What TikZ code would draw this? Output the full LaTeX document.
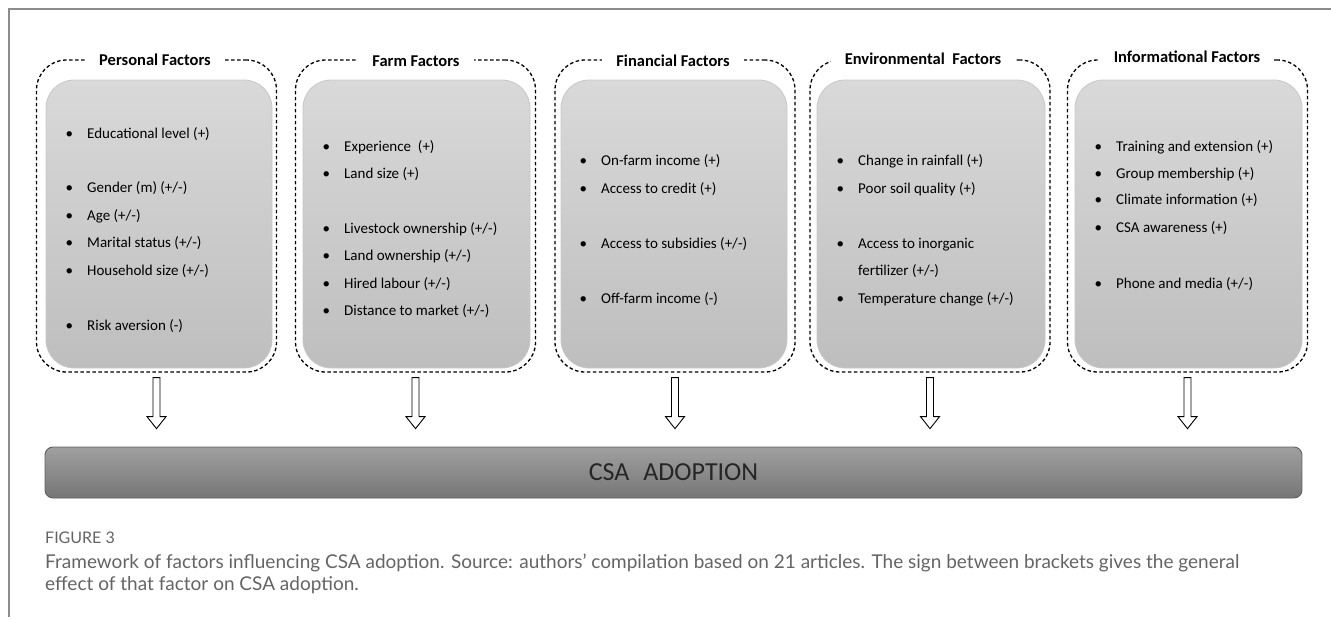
\documentclass[tikz,border=0pt]{standalone}
\usepackage{fontspec}
\setmainfont{Carlito}
\newfontfamily\capfont{Lato}
\definecolor{box_top}{RGB}{217, 217, 217}
\definecolor{box_bot}{RGB}{190, 190, 190}
\definecolor{box_line}{RGB}{200, 200, 200}
\definecolor{bar_top}{RGB}{160, 160, 160}
\definecolor{bar_bot}{RGB}{118, 118, 118}
\definecolor{bar_line}{RGB}{95, 95, 95}
\definecolor{frame_grey}{RGB}{140, 140, 140}
\definecolor{cap_grey}{RGB}{100, 100, 100}
\tikzstyle{dbox}=[rectangle,rounded corners=30pt,draw=black,line width=1.3pt,
  dash pattern=on 3.5pt off 2.5pt,minimum width=240pt,minimum height=312pt,inner sep=0pt]
\tikzstyle{gbox}=[rectangle,rounded corners=28pt,top color=box_top,bottom color=box_bot,
  draw=box_line,line width=0.8pt,minimum width=227pt,minimum height=288pt,inner sep=0pt]
\tikzstyle{fhead}=[fill=white,inner xsep=14pt,inner ysep=3pt,
  font=\fontsize{16.5}{20}\selectfont\bfseries]
\tikzstyle{fitem}=[anchor=base west,inner sep=0pt,font=\fontsize{15}{18}\selectfont]
\tikzstyle{harrow}=[draw=black,fill=white,line width=0.9pt,line join=miter]
\tikzstyle{adopt}=[rectangle,rounded corners=8pt,top color=bar_top,bottom color=bar_bot,
  draw=bar_line,line width=0.9pt,minimum width=1257pt,minimum height=51pt,
  font=\fontsize{26}{30}\selectfont,text=black!85]
\tikzstyle{capt}=[anchor=base west,inner sep=0pt,text=cap_grey,font=\capfont\fontsize{19}{22}\selectfont]
\tikzstyle{border}=[draw=frame_grey,line width=1.4pt]
\tikzstyle{none}=[]
\newcommand{\bul}{\llap{\textbullet\hspace{14pt}}}

\begin{document}
\begin{tikzpicture}[x=1pt, y=-1pt]
            \useasboundingbox (0, 0) rectangle (1331, 619);
            \draw [style=border] (1331, 9) -- (9, 9) -- (9, 617);
            % dashed groups and grey boxes
            \node [style=dbox] (0) at (156.5, 216) {};
            \node [style=dbox] (1) at (415.5, 216) {};
            \node [style=dbox] (2) at (675, 216) {};
            \node [style=dbox] (3) at (930, 216) {};
            \node [style=dbox] (4) at (1187.5, 216) {};
            \node [style=gbox, minimum width=226pt] (5) at (159, 224) {};
            \node [style=gbox] (6) at (416.5, 224) {};
            \node [style=gbox, minimum width=226pt] (7) at (674, 224) {};
            \node [style=gbox, minimum width=228pt] (8) at (931, 224) {};
            \node [style=gbox] (9) at (1188.5, 224) {};
            \node [style=fhead] (10) at (155, 60) {Personal Factors};
            \node [style=fhead] (11) at (416, 61) {Farm Factors};
            \node [style=fhead] (12) at (673, 61) {Financial Factors};
            \node [style=fhead] (13) at (923, 59) {Environmental~~Factors};
            \node [style=fhead] (14) at (1187, 57) {Informational Factors};
            % personal
            \node [style=fitem] (20) at (87, 138) {\bul Educational level (+)};
            \node [style=fitem] (21) at (87, 192) {\bul Gender (m) (+/-)};
            \node [style=fitem] (22) at (87, 220) {\bul Age (+/-)};
            \node [style=fitem] (23) at (87, 247) {\bul Marital status (+/-)};
            \node [style=fitem] (24) at (87, 275) {\bul Household size (+/-)};
            \node [style=fitem] (25) at (87, 330) {\bul Risk aversion (-)};
            % farm
            \node [style=fitem] (30) at (344, 151) {\bul Experience~~(+)};
            \node [style=fitem] (31) at (344, 178) {\bul Land size (+)};
            \node [style=fitem] (32) at (344, 233) {\bul Livestock ownership (+/-)};
            \node [style=fitem] (33) at (344, 260) {\bul Land ownership (+/-)};
            \node [style=fitem] (34) at (344, 288) {\bul Hired labour (+/-)};
            \node [style=fitem] (35) at (344, 315) {\bul Distance to market (+/-)};
            % financial
            \node [style=fitem] (40) at (601, 165) {\bul On-farm income (+)};
            \node [style=fitem] (41) at (601, 193) {\bul Access to credit (+)};
            \node [style=fitem] (42) at (601, 248) {\bul Access to subsidies (+/-)};
            \node [style=fitem] (43) at (601, 303) {\bul Off-farm income (-)};
            % environmental
            \node [style=fitem] (50) at (858, 165) {\bul Change in rainfall (+)};
            \node [style=fitem] (51) at (858, 193) {\bul Poor soil quality (+)};
            \node [style=fitem] (52) at (858, 248) {\bul Access to inorganic};
            \node [style=fitem] (53) at (858, 275) {fertilizer (+/-)};
            \node [style=fitem] (54) at (858, 303) {\bul Temperature change (+/-)};
            % informational
            \node [style=fitem] (60) at (1116, 151) {\bul Training and extension (+)};
            \node [style=fitem] (61) at (1116, 178) {\bul Group membership (+)};
            \node [style=fitem] (62) at (1116, 204) {\bul Climate information (+)};
            \node [style=fitem] (63) at (1116, 232) {\bul CSA awareness (+)};
            \node [style=fitem] (64) at (1116, 288) {\bul Phone and media (+/-)};
            % adoption bar and hollow arrows
            \node [style=adopt] (70) at (673.5, 472.5) {CSA\hspace{14pt}ADOPTION};
            \foreach \n in {0,...,4}
              \draw [style=harrow] ([yshift=-5pt]\n.south) ++(-3.5, 0) -- ++(7, 0) -- ++(0, 39)
                -- ++(6, 0) -- ++(-9.5, 12) -- ++(-9.5, -12) -- ++(6, 0) -- cycle;
            % caption
            \node [style=capt, font=\capfont\fontsize{16}{19}\selectfont] (80) at (45, 543) {FIGURE 3};
            \node [style=capt] (81) at (45, 568) {Framework of factors influencing CSA adoption. Source: authors’ compilation based on 21 articles. The sign between brackets gives the general};
            \node [style=capt] (82) at (45, 590) {effect of that factor on CSA adoption.};
    \end{tikzpicture}
\end{document}
